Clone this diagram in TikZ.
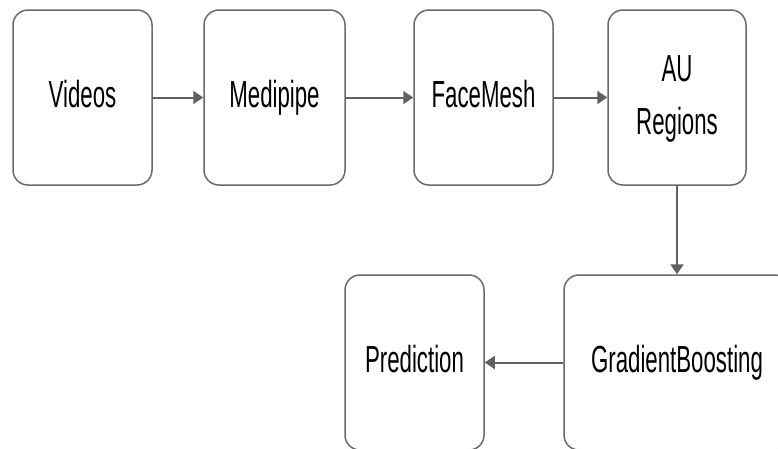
\documentclass[tikz,border=0pt]{standalone}
\usepackage{fontspec}
\setmainfont{Liberation Sans}
\usetikzlibrary{arrows.meta}
\definecolor{boxgray}{HTML}{6A6A6A}
\definecolor{arrgray}{HTML}{606060}
\newcommand{\sq}[1]{\scalebox{0.59}[1]{\vphantom{Vg}#1}}
\begin{document}
\begin{tikzpicture}[x=1pt,y=-1pt,
  stage/.style={draw=boxgray, line width=1.5pt, rounded corners=15pt, fill=white,
    inner sep=0pt, text=black, font=\fontsize{37.7pt}{53pt}\selectfont},
  flow/.style={draw=arrgray, line width=2pt, -{Triangle[length=10pt,width=13pt]}}]
\useasboundingbox (0,0) rectangle (778,448);
\clip (0,0) rectangle (778,448);
\fill[white] (0,0) rectangle (778,448);
\node[stage, minimum width=139pt, minimum height=175pt] (videos) at (82.5,97.5) {\sq{Videos}};
\node[stage, minimum width=141pt, minimum height=175pt] (medi) at (274.5,97.5) {\sq{Medipipe}};
\node[stage, minimum width=139pt, minimum height=175pt] (face) at (483.5,97.5) {\sq{FaceMesh}};
\node[stage, minimum width=138pt, minimum height=175pt] (au) at (677,97.5) {\scalebox{0.59}[1]{\begin{tabular}{@{}c@{}}AU\\Regions\end{tabular}}};
\node[stage, minimum width=226pt, minimum height=175pt] (gb) at (677,362.5) {\sq{GradientBoosting}};
\node[stage, minimum width=139pt, minimum height=175pt] (pred) at (414.5,362.5) {\sq{Prediction}};
\draw[flow] (videos) -- (medi);
\draw[flow] (medi) -- (face);
\draw[flow] (face) -- (au);
\draw[flow] (au) -- (gb);
\draw[flow] (gb) -- (pred);
\end{tikzpicture}
\end{document}
